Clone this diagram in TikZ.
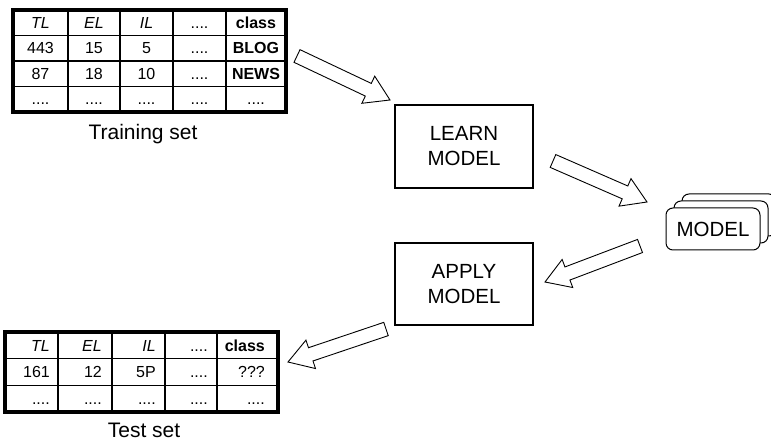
\documentclass[tikz,border=0pt]{standalone}
\usepackage{fontspec}
\setmainfont{Liberation Sans}
\usetikzlibrary{calc}

\newcommand{\dd}{....}
% hollow block arrow from #1 (tail) to #2 (tip)
\newcommand{\fatarrow}[2]{%
  \path (#1) coordinate (fa-t) (#2) coordinate (fa-p)
    ($(fa-p)!24pt!(fa-t)$) coordinate (fa-h);
  \draw[fatline] ($(fa-t)!7pt!90:(fa-p)$) -- ($(fa-h)!7pt!-90:(fa-t)$)
    -- ($(fa-h)!15pt!-90:(fa-t)$) -- (fa-p) -- ($(fa-h)!15pt!90:(fa-t)$)
    -- ($(fa-h)!7pt!90:(fa-t)$) -- ($(fa-t)!7pt!-90:(fa-p)$) -- cycle;
}

\begin{document}
\begin{tikzpicture}[x=1pt,y=-1pt,
    cell/.style={font=\fontsize{16}{19}\selectfont,inner sep=0pt,
      text height=11.5pt,text depth=0pt},
    grid/.style={line width=1.2pt},
    outer/.style={line width=3.5pt},
    fatline/.style={draw=black,fill=white,line width=0.9pt,line join=miter},
    stepbox/.style={draw,line width=1.2pt,minimum width=138pt,minimum height=83pt,
      align=center,font=\fontsize{20.5}{25}\selectfont},
    modelcard/.style={draw,fill=white,rounded corners=7pt,line width=1pt},
    caption/.style={font=\fontsize{21}{24}\selectfont}]
  \useasboundingbox (0,0) rectangle (771,443);

  % training set
  \foreach \x in {68,120,173,226} \draw[grid] (\x,10) -- (\x,112);
  \foreach \y in {35.5,61,86.5} \draw[grid] (13,\y) -- (286,\y);
  \draw[outer] (13,10) rectangle (286,112);
  \foreach \row [count=\r] in {{\textit{TL},\textit{EL},\textit{IL},\dd,\textbf{class}},
      {443,15,5,\dd,\textbf{BLOG}},{87,18,10,\dd,\textbf{NEWS}},{\dd,\dd,\dd,\dd,\dd}}
    \foreach \cell [count=\c] in \row {
      \pgfmathsetmacro{\cx}{{40.5,94,146.5,199.5,256}[\c-1]}
      \node[cell] (train-\r-\c) at (\cx,{22.75+25.5*(\r-1)}) {\cell};
    }
  \node[caption] (trainlabel) at (143,134) {Training set};

  % test set
  \foreach \x in {58,112,165,217} \draw[grid] (\x,332) -- (\x,412);
  \foreach \y in {358.7,385.3} \draw[grid] (5,\y) -- (278,\y);
  \draw[outer] (5,332) rectangle (278,412);
  \foreach \row [count=\r] in {{\textit{TL},\textit{EL},\textit{IL},\dd,\textbf{class}},
      {161,12,5P,\dd,???},{\dd,\dd,\dd,\dd,\dd}}
    \foreach \cell [count=\c] in \row {
      \pgfmathsetmacro{\cx}{{50,102,156,208,265}[\c-1]}
      \node[cell,anchor=east] (test-\r-\c) at (\cx,{345.3+26.7*(\r-1)}) {\cell};
    }
  \node[caption] (testlabel) at (144,430) {Test set};

  % steps
  \node[stepbox] (learn) at (464,146.5) {LEARN\\MODEL};
  \node[stepbox,minimum height=82pt] (apply) at (464,284) {APPLY\\MODEL};

  % model stack
  \draw[modelcard] (682,194) rectangle (776,236);
  \draw[modelcard] (674,201) rectangle (768,243);
  \node[modelcard,minimum width=94pt,minimum height=42pt,
    font=\fontsize{20.5}{25}\selectfont] (model) at (713,229) {MODEL};

  % arrows
  \coordinate (trainout) at (297,56);
  \coordinate (learnin) at (390,100);
  \coordinate (learnout) at (553,161);
  \coordinate (modelin) at (647,202);
  \coordinate (modelout) at (640,246);
  \coordinate (applyin) at (545,282);
  \coordinate (applyout) at (386,329);
  \coordinate (testin) at (288,362);
  \fatarrow{trainout}{learnin}
  \fatarrow{learnout}{modelin}
  \fatarrow{modelout}{applyin}
  \fatarrow{applyout}{testin}
\end{tikzpicture}
\end{document}
